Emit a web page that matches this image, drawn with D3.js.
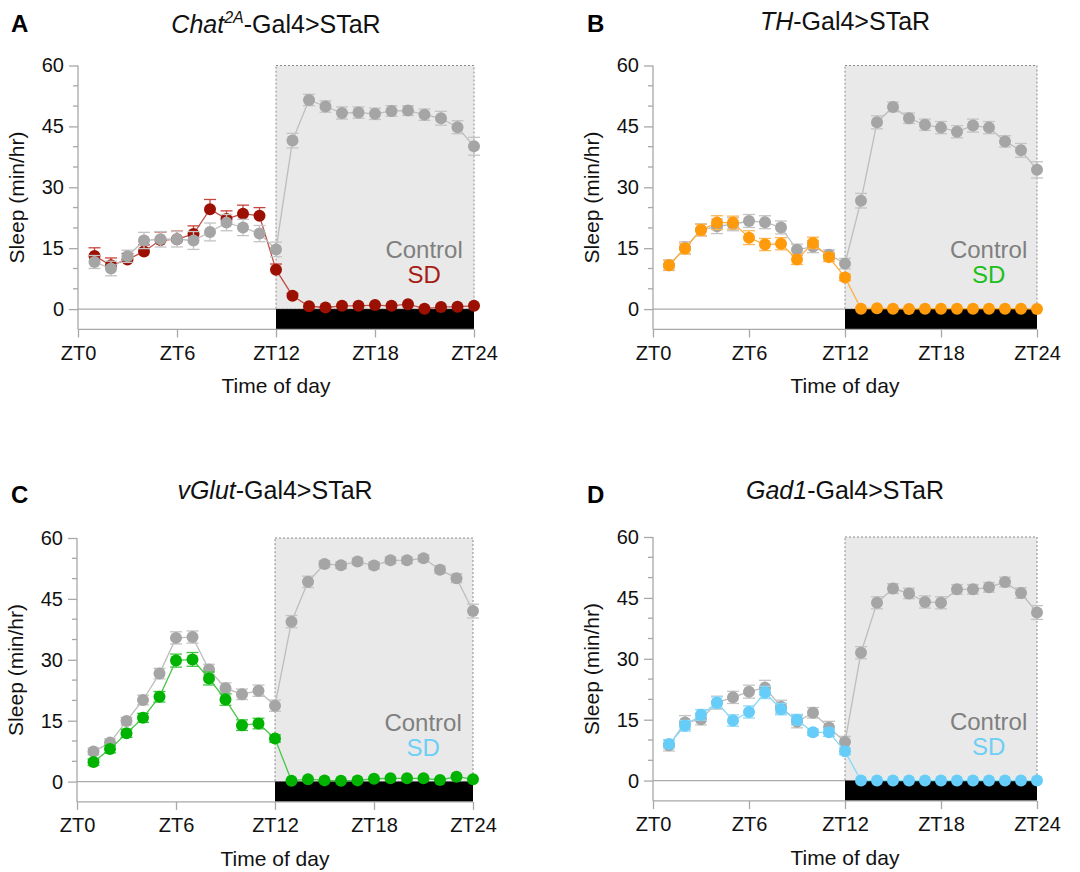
<!DOCTYPE html>
<html>
<head>
<meta charset="utf-8">
<script src="https://cdn.jsdelivr.net/npm/d3@7"></script>
<style>
  body { margin: 0; background: #fff; }
  svg { display: block; font-family: "Liberation Sans", Arial, sans-serif; }
</style>
</head>
<body>
<svg width="1080" height="872"></svg>
<script>
// hours (ZT1..ZT24) and axis ticks
const hours = [1, 2, 3, 4, 5, 6, 7, 8, 9, 10, 11, 12, 13, 14, 15, 16, 17, 18, 19, 20, 21, 22, 23, 24];
const xTicks = [0, 6, 12, 18, 24];
const xTickLabels = ["ZT0", "ZT6", "ZT12", "ZT18", "ZT24"];
const yTicks = [0, 15, 30, 45, 60];
const yMinorTicks = [5, 10, 20, 25, 35, 40, 50, 55];

// A: Chat2A-Gal4>STaR
const chatControl = [11.6, 10.0, 13.0, 16.9, 17.2, 17.2, 16.9, 19.0, 21.3, 20.1, 18.6, 14.7, 41.5, 51.5, 49.9, 48.3, 48.4, 48.1, 48.8, 48.9, 47.9, 47.0, 44.8, 40.1];
const chatControlSem = [1.6, 1.8, 1.5, 2.0, 1.9, 1.9, 2.2, 2.2, 2.0, 2.0, 2.0, 1.8, 1.8, 1.4, 1.4, 1.5, 1.4, 1.4, 1.3, 1.2, 1.4, 1.7, 1.6, 2.2];
const chatSD = [13.1, 10.8, 12.2, 14.2, 17.0, 17.2, 18.5, 24.6, 22.2, 23.5, 23.0, 9.7, 3.3, 0.7, 0.4, 0.8, 0.8, 1.0, 0.8, 1.2, 0.1, 0.5, 0.6, 0.8];
const chatSDSem = [2.0, 1.8, 1.5, 1.6, 2.0, 2.0, 2.0, 2.4, 2.0, 2.1, 2.0, 1.4, 0.6, 0.3, 0.3, 0.3, 0.3, 0.3, 0.3, 0.4, 0.2, 0.3, 0.3, 0.3];

// B: TH-Gal4>STaR
const thControl = [10.8, 15.1, 19.5, 20.4, 20.9, 21.7, 21.4, 20.1, 14.6, 15.4, 13.4, 11.2, 26.7, 46.0, 49.8, 47.0, 45.4, 44.7, 43.7, 45.2, 44.7, 41.3, 39.1, 34.3];
const thControlSem = [1.3, 1.5, 1.5, 1.8, 1.6, 1.6, 1.6, 1.6, 1.4, 1.5, 1.2, 1.3, 1.8, 1.6, 1.2, 1.3, 1.4, 1.5, 1.5, 1.6, 1.5, 1.4, 1.7, 2.0];
const thSD = [10.8, 14.9, 19.5, 21.3, 21.3, 17.6, 15.9, 16.1, 12.2, 16.3, 12.8, 7.8, 0.1, 0.2, 0.1, 0.0, 0.1, 0.1, 0.1, 0.1, 0.1, 0.1, 0.1, 0.0];
const thSDSem = [1.2, 1.3, 1.4, 1.7, 1.6, 1.7, 1.5, 1.5, 1.2, 1.4, 1.1, 0.8, 0.2, 0.2, 0.1, 0.1, 0.1, 0.1, 0.1, 0.1, 0.1, 0.1, 0.1, 0.1];

// C: vGlut-Gal4>STaR
const vglutControl = [7.4, 9.6, 14.9, 20.1, 26.6, 35.4, 35.6, 27.6, 23.0, 21.5, 22.4, 18.7, 39.4, 49.2, 53.6, 53.3, 54.2, 53.2, 54.5, 54.5, 55.0, 52.2, 50.1, 42.0];
const vglutControlSem = [0.8, 0.9, 0.9, 1.2, 1.3, 1.5, 1.5, 1.3, 1.3, 1.3, 1.4, 1.4, 1.5, 1.4, 0.8, 0.8, 0.8, 0.8, 0.8, 0.8, 0.8, 0.9, 1.1, 1.7];
const vglutSD = [4.8, 8.0, 11.9, 15.7, 20.9, 29.8, 30.1, 25.4, 20.2, 13.9, 14.3, 10.6, 0.2, 0.6, 0.3, 0.2, 0.3, 0.7, 0.8, 0.8, 0.8, 0.4, 1.2, 0.6];
const vglutSDSem = [0.8, 0.9, 1.0, 1.1, 1.3, 1.6, 1.7, 1.6, 1.4, 1.3, 1.3, 0.9, 0.3, 0.3, 0.3, 0.3, 0.3, 0.3, 0.3, 0.3, 0.3, 0.3, 0.4, 0.3];

// D: Gad1-Gal4>STaR
const gadControl = [8.7, 14.3, 15.1, 19.2, 20.5, 21.9, 22.9, 18.2, 14.5, 16.7, 13.1, 9.5, 31.5, 43.8, 47.3, 46.1, 44.0, 43.8, 47.1, 47.1, 47.6, 48.9, 46.2, 41.4];
const gadControlSem = [1.4, 1.7, 1.4, 1.6, 1.5, 1.6, 1.8, 1.6, 1.5, 1.3, 1.5, 1.4, 1.5, 1.5, 1.2, 1.3, 1.5, 1.5, 1.2, 1.2, 1.2, 1.2, 1.3, 1.7];
const gadSD = [9.0, 13.5, 16.2, 19.2, 14.8, 16.9, 21.7, 17.6, 15.0, 11.9, 11.9, 7.2, 0.0, 0.0, 0.0, 0.0, 0.0, 0.0, 0.0, 0.0, 0.0, 0.0, 0.0, 0.0];
const gadSDSem = [1.0, 1.3, 1.3, 1.4, 1.4, 1.5, 1.5, 1.4, 1.3, 0.8, 1.0, 0.8, 0.1, 0.1, 0.1, 0.1, 0.1, 0.1, 0.1, 0.1, 0.1, 0.1, 0.1, 0.1];

const svg = d3.select("svg");

const grey = { dot: "#a5a5a5", line: "#bdbdbd", err: "#c4c4c4", text: "#7f7f7f" };
const axisColor = "#a8a8a8";

const panels = [
    { letter: "A", ital: "Chat", sup: "2A", rest: "-Gal4>STaR",
      x0: 78, x1: 474, top: 65.5, titleY: 33, letterY: 32,
      control: chatControl, controlSem: chatControlSem, sd: chatSD, sdSem: chatSDSem,
      dot: "#9b1000", line: "#c0504a", err: "#c4463c", legend: "#a51d12",
      sdUpOnly: true, sdBelow: true },
    { letter: "B", ital: "TH", sup: "", rest: "-Gal4>STaR",
      x0: 653, x1: 1037, top: 65.5, titleY: 30, letterY: 32,
      control: thControl, controlSem: thControlSem, sd: thSD, sdSem: thSDSem,
      dot: "#ff9a0a", line: "#ffae3c", err: "#ffb552", legend: "#1cbf1c" },
    { letter: "C", ital: "vGlut", sup: "", rest: "-Gal4>STaR",
      x0: 77, x1: 473, top: 538, titleY: 499, letterY: 503,
      control: vglutControl, controlSem: vglutControlSem, sd: vglutSD, sdSem: vglutSDSem,
      dot: "#00b300", line: "#45c645", err: "#3fc63f", legend: "#6dcff6" },
    { letter: "D", ital: "Gad1", sup: "", rest: "-Gal4>STaR",
      x0: 653, x1: 1037, top: 537, titleY: 499, letterY: 503,
      control: gadControl, controlSem: gadControlSem, sd: gadSD, sdSem: gadSDSem,
      dot: "#66cdf8", line: "#86d8fa", err: "#8fdafa", legend: "#6dcff6" }
];

panels.forEach(drawPanel);

function drawPanel(p) {
    const pxPerUnit = 243.6 / 60;
    const x = d3.scaleLinear().domain([0, 24]).range([p.x0, p.x1]);
    const y = d3.scaleLinear().domain([-5, 60]).range([p.top + 65 * pxPerUnit, p.top]);
    const g = svg.append("g");

    // night shading with dashed outline
    g.append("rect")
        .attr("x", x(12)).attr("y", y(60))
        .attr("width", x(24) - x(12)).attr("height", y(0) - y(60))
        .attr("fill", "#e9e9e9")
        .attr("stroke", "#8a8a8a").attr("stroke-width", 1)
        .attr("stroke-dasharray", "2,2");

    // zero line
    g.append("line")
        .attr("x1", x(0)).attr("x2", x(24))
        .attr("y1", y(0)).attr("y2", y(0))
        .attr("stroke", "#aaaaaa").attr("stroke-width", 1.2);

    // dark phase bar
    g.append("rect")
        .attr("x", x(12)).attr("y", y(0))
        .attr("width", x(24) - x(12)).attr("height", y(-5) - y(0))
        .attr("fill", "#000");

    // y axis
    const yAxis = g.append("g")
        .attr("transform", `translate(${x(0)},0)`)
        .call(d3.axisLeft(y).tickValues(yTicks).tickSize(9).tickPadding(5).tickFormat(d3.format("d")));
    yAxis.select(".domain").attr("d", `M0,${y(60)}V${y(-5)}`);
    g.append("g")
        .attr("transform", `translate(${x(0)},0)`)
        .selectAll("line")
        .data(yMinorTicks)
        .enter().append("line")
        .attr("x1", -5).attr("x2", 0)
        .attr("y1", d => y(d)).attr("y2", d => y(d))
        .attr("stroke", axisColor).attr("stroke-width", 1.3);

    // x axis at the bottom of the frame
    const xAxis = g.append("g")
        .attr("transform", `translate(0,${y(-5)})`)
        .call(d3.axisBottom(x).tickValues(xTicks).tickSize(8).tickPadding(8)
            .tickFormat((d, i) => xTickLabels[i]));
    xAxis.select(".domain").attr("d", `M${x(0)},0H${x(24)}`);

    [yAxis, xAxis].forEach(ax => {
        ax.selectAll(".domain, .tick line").attr("stroke", axisColor).attr("stroke-width", 1.3);
        ax.selectAll("text").attr("fill", "#111").attr("font-size", 20);
    });

    // axis titles
    g.append("text")
        .attr("x", x(12)).attr("y", y(-5) + 64)
        .attr("text-anchor", "middle").attr("font-size", 21).attr("fill", "#111")
        .text("Time of day");
    g.append("text")
        .attr("transform", `translate(${x(0) - 54},${(y(60) + y(-5)) / 2}) rotate(-90)`)
        .attr("text-anchor", "middle").attr("font-size", 21).attr("fill", "#111")
        .text("Sleep (min/hr)");

    // title and panel letter
    const title = g.append("text")
        .attr("x", x(12)).attr("y", p.titleY)
        .attr("text-anchor", "middle").attr("font-size", 25).attr("fill", "#111");
    title.append("tspan").attr("font-style", "italic").text(p.ital);
    if (p.sup) {
        title.append("tspan").attr("font-style", "italic").attr("font-size", 16)
            .attr("dy", -10).text(p.sup);
        title.append("tspan").attr("dy", 10).text(p.rest);
    } else {
        title.append("tspan").text(p.rest);
    }
    g.append("text")
        .attr("x", p.x0 < 300 ? 11 : 587).attr("y", p.letterY)
        .attr("font-size", 24).attr("font-weight", "bold").attr("fill", "#000")
        .text(p.letter);

    // legend
    const lx = x(0) + 0.874 * (x(24) - x(0));
    g.append("text").attr("x", lx).attr("y", p.top + 192.5)
        .attr("text-anchor", "middle").attr("font-size", 24).attr("fill", grey.text)
        .text("Control");
    g.append("text").attr("x", lx).attr("y", p.top + 217.5)
        .attr("text-anchor", "middle").attr("font-size", 24).attr("fill", p.legend)
        .text("SD");

    const controlSeries = { values: p.control, sem: p.controlSem, dot: grey.dot, line: grey.line, err: grey.err, upOnly: false };
    const sdSeries = { values: p.sd, sem: p.sdSem, dot: p.dot, line: p.line, err: p.err, upOnly: !!p.sdUpOnly };
    const order = p.sdBelow ? [sdSeries, controlSeries] : [controlSeries, sdSeries];
    order.forEach(s => drawSeries(g, x, y, s));
}

function drawSeries(g, x, y, s) {
    const pts = hours.map((h, i) => ({ h: h, v: s.values[i], e: s.sem[i] }));
    const sg = g.append("g");

    sg.append("path")
        .datum(pts)
        .attr("fill", "none")
        .attr("stroke", s.line).attr("stroke-width", 1.3)
        .attr("d", d3.line().x(d => x(d.h)).y(d => y(d.v)));

    const cap = 6;
    const err = sg.append("g")
        .attr("stroke", s.err).attr("stroke-width", 1.3)
        .selectAll("g")
        .data(pts.filter(d => d.e >= 0.5))
        .enter().append("g");
    err.append("line")
        .attr("x1", d => x(d.h)).attr("x2", d => x(d.h))
        .attr("y1", d => s.upOnly ? y(d.v) : y(d.v - d.e))
        .attr("y2", d => y(d.v + d.e));
    err.append("line")
        .attr("x1", d => x(d.h) - cap).attr("x2", d => x(d.h) + cap)
        .attr("y1", d => y(d.v + d.e)).attr("y2", d => y(d.v + d.e));
    if (!s.upOnly) {
        err.append("line")
            .attr("x1", d => x(d.h) - cap).attr("x2", d => x(d.h) + cap)
            .attr("y1", d => y(d.v - d.e)).attr("y2", d => y(d.v - d.e));
    }

    sg.selectAll("circle")
        .data(pts)
        .enter().append("circle")
        .attr("cx", d => x(d.h)).attr("cy", d => y(d.v))
        .attr("r", 6)
        .attr("fill", s.dot);
}
</script>
</body>
</html>
